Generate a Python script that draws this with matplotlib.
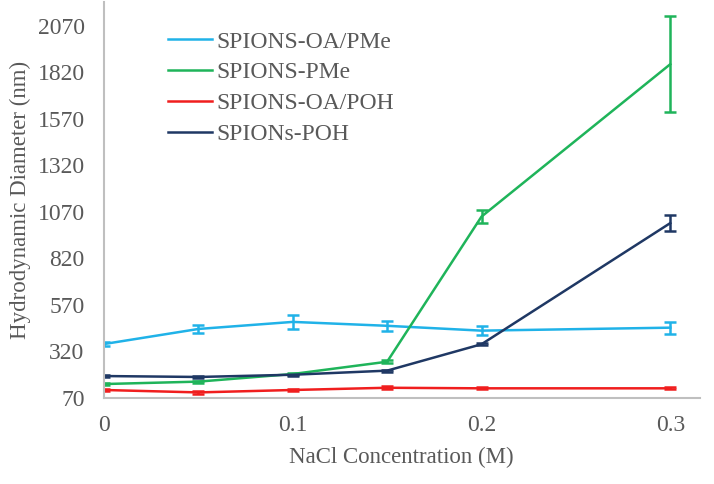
import matplotlib
matplotlib.use("Agg")
import matplotlib.pyplot as plt
from matplotlib.lines import Line2D

nacl = [0, 0.05, 0.1, 0.15, 0.2, 0.3]

oa_pme = [360, 441, 479, 458, 432, 448]
oa_pme_err = [10, 24, 36, 26, 25, 33]

pme = [145, 158, 199, 265, 1045, 1864]
pme_err = [5, 6, 6, 8, 34, 258]

oa_poh = [113, 100, 113, 125, 122, 122]
oa_poh_err = [8, 6, 8, 8, 6, 6]

poh = [188, 183, 195, 217, 359, 1010]
poh_err = [5, 5, 5, 5, 6, 42]

labels = ["SPIONS-OA/PMe", "SPIONS-PMe", "SPIONS-OA/POH", "SPIONs-POH"]
colors = ["#20B2E8", "#1FB45A", "#F01E1E", "#1F3864"]

yticks = [70, 320, 570, 820, 1070, 1320, 1570, 1820, 2070]
xticks = [0, 0.1, 0.2, 0.3]
xticklabels = ["0", "0.1", "0.2", "0.3"]

plt.rcParams['font.family'] = ['Liberation Serif', 'DejaVu Serif']
txt = "#595959"

fig = plt.figure(figsize=(7.14, 4.84), dpi=100)
ax = fig.add_axes([0.1457, 0.1777, 0.834, 0.818])

series = [(oa_pme, oa_pme_err), (pme, pme_err), (oa_poh, oa_poh_err), (poh, poh_err)]
for (vals, err), lab, c in zip(series, labels, colors):
    ax.errorbar(nacl, vals, yerr=err, color=c, lw=1.8, elinewidth=1.8,
                capsize=4, capthick=1.8, label=lab)

ax.set_xlim(0, 0.3155)
ax.set_ylim(70, 2198)
ax.set_yticks(yticks)
ax.set_xticks(xticks)
ax.set_xticklabels(xticklabels)
ax.tick_params(length=0, labelsize=17, colors=txt)
ax.tick_params(axis='x', pad=12)
ax.tick_params(axis='y', pad=14)
for s in ["top", "right"]:
    ax.spines[s].set_visible(False)
for s in ["left", "bottom"]:
    ax.spines[s].set_color("#BFBFBF")
    ax.spines[s].set_linewidth(1.5)

ax.set_ylabel("Hydrodynamic Diameter (nm)", fontsize=16.5, color=txt)
ax.yaxis.set_label_coords(-(104 - 20) / (0.834 * 714), 0.5)
ax.set_xlabel("NaCl Concentration (M)", fontsize=16.5, color=txt)
ax.xaxis.set_label_coords(0.5, -(457 - 398) / (0.818 * 484))
ax.xaxis.label.set_va("center")
ax.yaxis.label.set_va("center")

handles = [Line2D([], [], color=c, lw=1.8) for c in colors]
leg = fig.legend(handles, labels, loc="upper left",
                 bbox_to_anchor=(168 / 714, 1 - 31 / 484), frameon=False,
                 fontsize=17, handlelength=1.85, handletextpad=0.2,
                 labelspacing=0.4, borderpad=0, borderaxespad=0)
for t in leg.get_texts():
    t.set_color(txt)

fig.savefig("out.png", dpi=100)
